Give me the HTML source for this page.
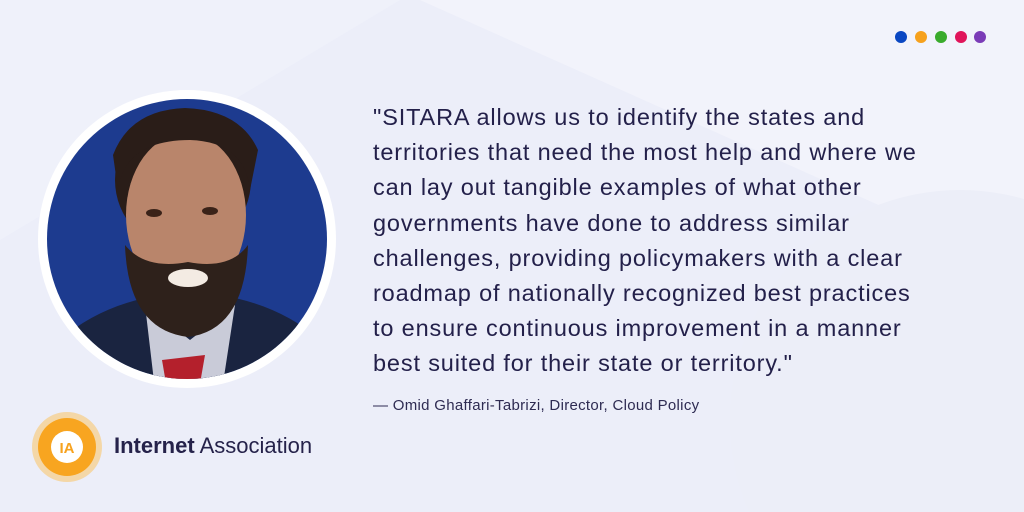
<!DOCTYPE html>
<html><head><meta charset="utf-8"><style>
html,body{margin:0;padding:0;width:1024px;height:512px;overflow:hidden;}
body{position:relative;background:#eceef9;font-family:"Liberation Sans",sans-serif;}
.q{position:absolute;left:373px;top:100px;color:#23204a;font-size:23.5px;letter-spacing:0.85px;line-height:35.2px;white-space:nowrap;}
.a{position:absolute;left:373px;top:397px;color:#2e2b52;font-size:15px;letter-spacing:0.3px;white-space:nowrap;}
.logo{position:absolute;left:114px;top:433px;color:#25224a;font-size:22px;white-space:nowrap;}
</style></head><body>
<svg width="1024" height="512" style="position:absolute;left:0;top:0">
<polygon points="0,0 420,0 1024,270 1024,0" fill="#f2f3fb"/>
<polygon points="0,240 400,0 0,0" fill="#eff1fa"/>
<circle cx="960" cy="420" r="230" fill="#eceef8"/>
<circle cx="901" cy="37" r="6" fill="#0a47c2"/>
<circle cx="921" cy="37" r="6" fill="#f6a11d"/>
<circle cx="941" cy="37" r="6" fill="#3aab2c"/>
<circle cx="961" cy="37" r="6" fill="#e0145a"/>
<circle cx="980" cy="37" r="6" fill="#7b3bb7"/>
<defs><clipPath id="c"><circle cx="187" cy="239" r="140"/></clipPath></defs>
<circle cx="187" cy="239" r="149" fill="#ffffff"/>
<g clip-path="url(#c)">
<rect x="40" y="90" width="300" height="300" fill="#1d3b8f"/>
<path d="M60,340 Q100,305 160,295 L220,295 Q280,305 320,340 L330,400 L50,400Z" fill="#1a2440"/>
<path d="M145,305 L190,340 L235,305 L222,390 L155,390Z" fill="#c9cbd8"/>
<path d="M162,360 L205,355 L198,395 L168,395Z" fill="#b4202c"/>
<ellipse cx="183" cy="180" rx="68" ry="70" fill="#2a1d18"/>
<ellipse cx="186" cy="215" rx="60" ry="82" fill="#b9856b"/>
<path d="M125,245 Q128,330 188,337 Q245,330 248,245 Q230,270 188,262 Q145,270 125,245Z" fill="#2e211b"/>
<ellipse cx="188" cy="278" rx="20" ry="9" fill="#f3ebe3"/>
<ellipse cx="154" cy="213" rx="8" ry="4" fill="#3a2218"/>
<ellipse cx="210" cy="211" rx="8" ry="4" fill="#3a2218"/>
<path d="M118,190 Q125,140 190,140 Q245,142 250,190 L258,150 Q240,110 185,108 Q130,110 113,155Z" fill="#2a1d18"/>
</g>
<circle cx="67" cy="447" r="35" fill="#fbbf55" opacity="0.5"/>
<circle cx="67" cy="447" r="29" fill="#f8a520"/>
<circle cx="67" cy="447" r="16" fill="#ffffff"/>
<text x="67" y="453" text-anchor="middle" font-family="Liberation Sans" font-weight="bold" font-size="15" fill="#f7a21e">IA</text>
</svg>
<div class="q">"SITARA allows us to identify the states and<br>territories that need the most help and where we<br>can lay out tangible examples of what other<br>governments have done to address similar<br>challenges, providing policymakers with a clear<br>roadmap of nationally recognized best practices<br>to ensure continuous improvement in a manner<br>best suited for their state or territory."</div>
<div class="a">— Omid Ghaffari-Tabrizi, Director, Cloud Policy</div>
<div class="logo"><span style="font-weight:bold">Internet</span> Association</div>
</body></html>
